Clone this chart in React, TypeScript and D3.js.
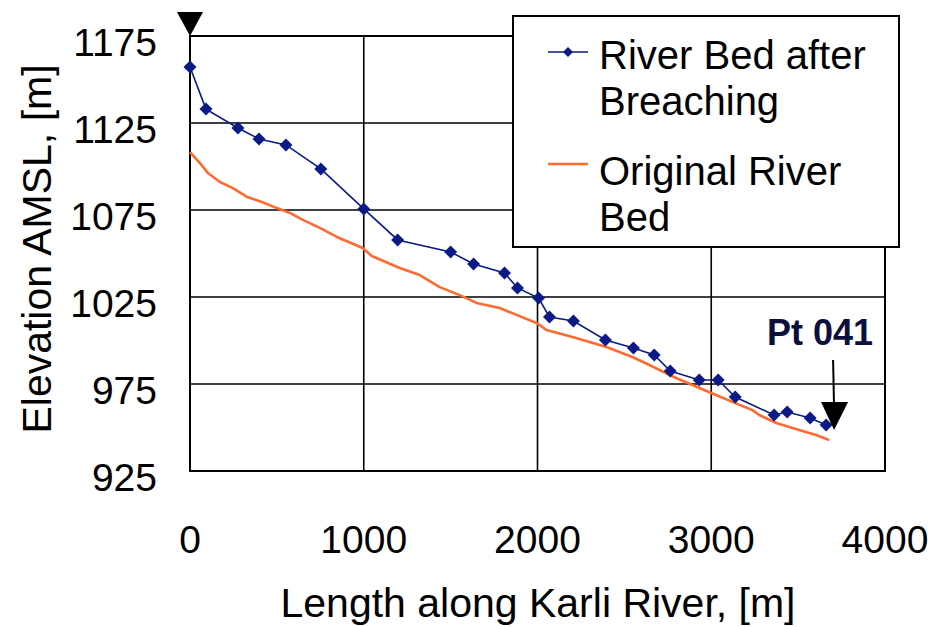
import React from "react";
import * as d3 from "d3";

const breachX = [0, 92, 276, 397, 552, 753, 1000, 1195, 1500, 1632, 1810, 1885, 2006, 2069, 2207, 2391, 2552, 2672, 2764, 2931, 3040, 3138, 3362, 3437, 3569, 3661];
const breachY = [1157.2, 1133, 1122.1, 1115.8, 1112.4, 1098.6, 1075.6, 1057.8, 1050.9, 1044, 1038.8, 1030.2, 1024.4, 1013.5, 1011.2, 1000.3, 995.7, 991.7, 982.5, 977.3, 977.3, 967.5, 957.2, 958.9, 955.5, 951.4];

const origX = [0, 57, 103, 172, 247, 328, 414, 500, 575, 649, 747, 845, 994, 1046, 1207, 1322, 1437, 1552, 1649, 1782, 1879, 1994, 2052, 2201, 2397, 2546, 2644, 2759, 2891, 3000, 3121, 3236, 3276, 3374, 3506, 3603, 3678];
const origY = [1108.3, 1102, 1096.3, 1091.1, 1087.6, 1082.5, 1079.6, 1076.1, 1073.3, 1069.3, 1064.7, 1059.5, 1053.2, 1048.6, 1041.7, 1037.6, 1030.7, 1026.1, 1021.6, 1018.7, 1014.7, 1010.1, 1006, 1002, 996.3, 990.5, 985.9, 980.2, 974.4, 969.8, 964.7, 960.1, 957.2, 952.6, 948.6, 945.7, 942.8];

const xTicks = [0, 1000, 2000, 3000, 4000];
const yTicks = [925, 975, 1025, 1075, 1125, 1175];
const legendLabels = [["River Bed after", "Breaching"], ["Original River", "Bed"]];
const ptLabel = "Pt 041";
const ptArrow = { x: 3707, yTop: 988.8, yTip: 948.6 };

const FONT = "'Liberation Sans', Arial, Helvetica, sans-serif";
const BLUE = "#0c1a86";
const ORANGE = "#ff6a30";

export default function App() {
  const W = 937, H = 627;
  const left = 190, right = 885, top = 36, bottom = 471;
  const x = d3.scaleLinear().domain([0, 4000]).range([left, right]);
  const y = d3.scaleLinear().domain([925, 1175]).range([bottom, top]);

  const breach = breachX.map((v, i) => [v, breachY[i]] as [number, number]);
  const orig = origX.map((v, i) => [v, origY[i]] as [number, number]);
  const line = d3.line<[number, number]>().x(d => x(d[0])).y(d => y(d[1]));

  const diamond = (cx: number, cy: number, r: number) =>
    `M${cx},${cy - r}L${cx + r},${cy}L${cx},${cy + r}L${cx - r},${cy}Z`;

  const ax = x(ptArrow.x);
  const tipY = y(ptArrow.yTip);
  const topArrowX = x(0);

  return (
    <svg width={W} height={H} style={{ position: "absolute", left: 0, top: 0, background: "#fff" }} fontFamily={FONT}>
      <rect x={0} y={0} width={W} height={H} fill="#fff" />
      {/* grid */}
      {xTicks.map(t => (
        <line key={"gx" + t} x1={x(t)} x2={x(t)} y1={top} y2={bottom} stroke="#000" strokeWidth={1.6} />
      ))}
      {yTicks.map(t => (
        <line key={"gy" + t} x1={left} x2={right} y1={y(t)} y2={y(t)} stroke="#000" strokeWidth={1.6} />
      ))}
      <rect x={left} y={top} width={right - left} height={bottom - top} fill="none" stroke="#000" strokeWidth={2} />

      {/* series */}
      <path d={line(orig) || ""} fill="none" stroke={ORANGE} strokeWidth={2.6} strokeLinejoin="round" />
      <path d={line(breach) || ""} fill="none" stroke={BLUE} strokeWidth={1.6} />
      {breach.map((d, i) => (
        <path key={"m" + i} d={diamond(x(d[0]), y(d[1]), 6.5)} fill={BLUE} />
      ))}

      {/* axis labels */}
      {yTicks.map(t => (
        <text key={"ty" + t} x={157} y={y(t) + 20} textAnchor="end" fontSize={39} fill="#000">{t}</text>
      ))}
      {xTicks.map(t => (
        <text key={"tx" + t} x={x(t)} y={553} textAnchor="middle" fontSize={39} fill="#000">{t}</text>
      ))}
      <text x={538} y={617} textAnchor="middle" fontSize={41} fill="#000">Length along Karli River, [m]</text>
      <text transform={`translate(51,249) rotate(-90)`} textAnchor="middle" fontSize={41} fill="#000">Elevation AMSL, [m]</text>

      {/* top arrow at origin */}
      <path d={`M${topArrowX - 13},${top - 24}L${topArrowX + 13},${top - 24}L${topArrowX},${top}Z`} fill="#000" />

      {/* Pt 041 annotation */}
      <line x1={ax - 1} y1={y(ptArrow.yTop)} x2={ax} y2={tipY - 20} stroke="#000" strokeWidth={2} />
      <path d={`M${ax - 13},${tipY - 28}L${ax + 14},${tipY - 28}L${ax},${tipY}Z`} fill="#000" />
      <text x={820} y={345} textAnchor="middle" fontSize={36} fontWeight="bold" fill="#0a0f3c">{ptLabel}</text>

      {/* legend */}
      <rect x={513} y={16} width={386} height={231} fill="#fff" stroke="#000" strokeWidth={2} />
      <line x1={548} x2={588} y1={52} y2={52} stroke={BLUE} strokeWidth={1.6} />
      <path d={diamond(568, 52, 5)} fill={BLUE} />
      <line x1={548} x2={588} y1={164} y2={164} stroke={ORANGE} strokeWidth={2.6} />
      {legendLabels[0].map((s, i) => (
        <text key={"l0" + i} x={599} y={69 + i * 46} fontSize={40} fill="#000">{s}</text>
      ))}
      {legendLabels[1].map((s, i) => (
        <text key={"l1" + i} x={599} y={185 + i * 46} fontSize={40} fill="#000">{s}</text>
      ))}
    </svg>
  );
}
